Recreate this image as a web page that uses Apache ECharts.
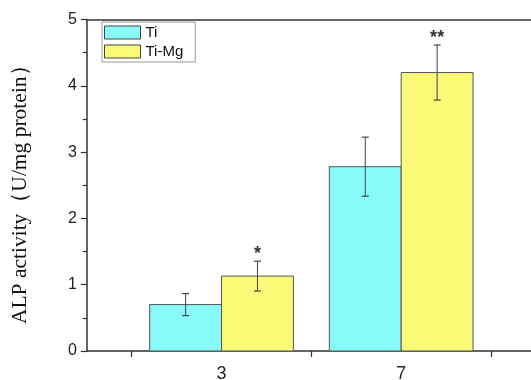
<!DOCTYPE html>
<html>
<head>
<meta charset="utf-8">
<script src="https://cdn.jsdelivr.net/npm/echarts@6/dist/echarts.min.js"></script>
<style>html,body{margin:0;padding:0;background:#fff;}#c{width:531px;height:380px;}</style>
</head>
<body>
<div id="c"></div>
<script>
var days = [3, 7];
var dayLabels = ['3', '7'];
var xTicks = [1, 5, 9];
var seriesNames = ['Ti', 'Ti-Mg'];
var tiMeans = [0.70, 2.78];
var tiErrors = [0.166, 0.445];
var tiMgMeans = [1.13, 4.20];
var tiMgErrors = [0.225, 0.415];
var tiSig = ['', ''];
var tiMgSig = ['*', '**'];
var yTicks = [0, 1, 2, 3, 4, 5];

var colors = ['#88fafa', '#fafa78'];
var barSpan = 1.6;

function makeData(means, errs, sig) {
  return days.map(function (d, i) { return [d, means[i], errs[i], sig[i]]; });
}

function makeRender(side) {
  return function (params, api) {
    var day = api.value(0), mean = api.value(1), err = api.value(2);
    var sig = api.value(3);
    var x0 = side === 0 ? day - barSpan : day;
    var x1 = side === 0 ? day : day + barSpan;
    var pA = api.coord([x0, mean]);
    var pB = api.coord([x1, 0]);
    var cx = (pA[0] + pB[0]) / 2;
    var top = api.coord([day, mean + err])[1];
    var bot = api.coord([day, mean - err])[1];
    var cap = 3.5;
    var children = [
      { type: 'rect', shape: { x: pA[0], y: pA[1], width: pB[0] - pA[0], height: pB[1] - pA[1] },
        style: { fill: api.visual('color'), stroke: '#555', lineWidth: 1 } },
      { type: 'line', shape: { x1: cx, y1: top, x2: cx, y2: bot }, style: { stroke: '#444', lineWidth: 1 } },
      { type: 'line', shape: { x1: cx - cap, y1: top, x2: cx + cap, y2: top }, style: { stroke: '#444', lineWidth: 1.2 } },
      { type: 'line', shape: { x1: cx - cap, y1: bot, x2: cx + cap, y2: bot }, style: { stroke: '#444', lineWidth: 1.2 } }
    ];
    if (sig && sig !== '-') {
      children.push({ type: 'text', style: { text: sig, x: cx, y: top - 7, align: 'center', verticalAlign: 'middle',
        font: 'bold 18px Arial, "Liberation Sans", sans-serif', fill: '#333' } });
    }
    return { type: 'group', children: children };
  };
}

var chart = echarts.init(document.getElementById('c'), null, { renderer: 'canvas' });
chart.setOption({
  animation: false,
  backgroundColor: '#fff',
  grid: { left: 86.8, top: 19.5, bottom: 29, right: 0, containLabel: false, outerBoundsMode: 'none' },
  legend: {
    orient: 'vertical', left: 102, top: 22,
    icon: 'rect', itemWidth: 36, itemHeight: 13, itemGap: 4,
    padding: [3, 12, 3, 2],
    borderColor: '#999', borderWidth: 1,
    textStyle: { fontSize: 15, color: '#111', fontFamily: 'Arial, "Liberation Sans", sans-serif' },
    data: [
      { name: seriesNames[0], itemStyle: { color: colors[0], borderColor: '#444', borderWidth: 1 } },
      { name: seriesNames[1], itemStyle: { color: colors[1], borderColor: '#444', borderWidth: 1 } }
    ]
  },
  xAxis: [{
    type: 'value', min: 0, max: 9.89, position: 'bottom',
    splitLine: { show: false },
    axisLine: { lineStyle: { color: '#333', width: 1.5 } },
    axisTick: { show: true, customValues: xTicks, length: 6, lineStyle: { color: '#333', width: 1.2 } },
    axisLabel: { show: true, customValues: days, formatter: function (v) { var i = days.indexOf(v); return i >= 0 ? dayLabels[i] : ''; },
      fontSize: 18, color: '#222', margin: 14, fontFamily: 'Arial, "Liberation Sans", sans-serif' }
  }, {
    type: 'value', min: 0, max: 9.89, position: 'top',
    splitLine: { show: false },
    axisLine: { show: true, lineStyle: { color: '#333', width: 1.5 } },
    axisTick: { show: false }, axisLabel: { show: false }
  }],
  yAxis: {
    type: 'value', min: yTicks[0], max: yTicks[yTicks.length - 1], interval: 1,
    name: 'ALP activity（U/mg protein）',
    nameLocation: 'middle', nameGap: 55,
    nameTextStyle: { fontSize: 21.5, color: '#111', fontFamily: '"Liberation Serif", "Times New Roman", serif', padding: [0, 8, 0, 0] },
    splitLine: { show: false },
    axisLine: { show: true, lineStyle: { color: '#333', width: 1.5 } },
    axisTick: { show: true, length: 6, lineStyle: { color: '#333', width: 1.2 } },
    minorTick: { show: true, splitNumber: 2, length: 4, lineStyle: { color: '#333', width: 1.2 } },
    axisLabel: { fontSize: 16, color: '#222', margin: 10, fontFamily: 'Arial, "Liberation Sans", sans-serif' }
  },
  series: [
    { name: seriesNames[0], type: 'custom', xAxisIndex: 0, itemStyle: { color: colors[0] },
      renderItem: makeRender(0), data: makeData(tiMeans, tiErrors, tiSig), encode: { x: 0, y: 1 } },
    { name: seriesNames[1], type: 'custom', xAxisIndex: 0, itemStyle: { color: colors[1] },
      renderItem: makeRender(1), data: makeData(tiMgMeans, tiMgErrors, tiMgSig), encode: { x: 0, y: 1 } }
  ]
});
</script>
</body>
</html>
